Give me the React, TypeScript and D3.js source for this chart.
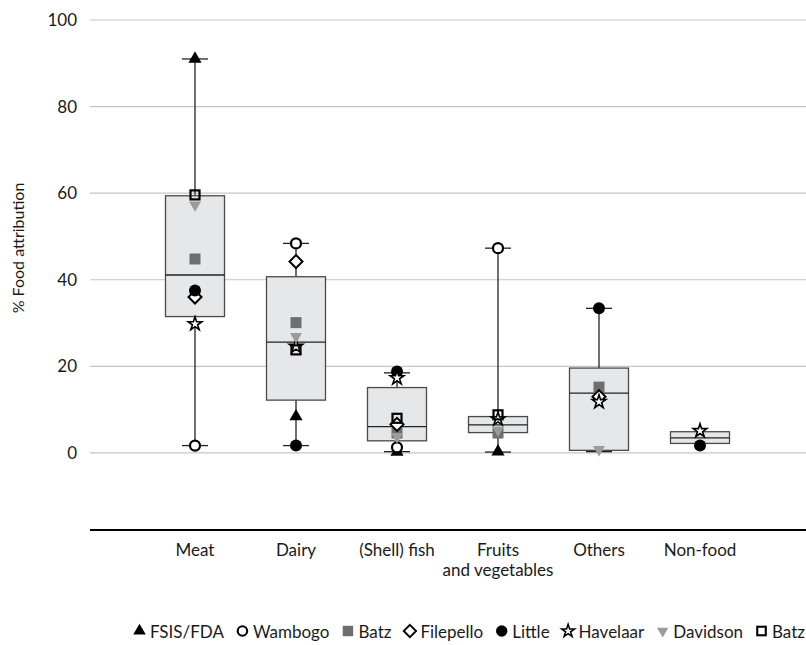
import React, { useLayoutEffect, useRef, useState } from "react";
import * as d3 from "d3";

const categories = ["Meat", "Dairy", "(Shell) fish", "Fruits|and vegetables", "Others", "Non-food"];

// box statistics
const whiskerLow = [1.7, 1.7, 0.3, 0.2, 0.3, 2.2];
const q1 = [31.5, 12.2, 2.8, 4.7, 0.6, 2.2];
const median = [41.1, 25.6, 6.1, 6.5, 13.8, 3.5];
const q3 = [59.4, 40.7, 15.1, 8.4, 19.6, 4.9];
const whiskerHigh = [91, 48.4, 18.5, 47.3, 33.4, 4.9];

// study estimates per category (null = not reported)
const fsisFda = [91, 8.4, 0.2, 0.3, null, null];
const wambogo = [1.7, 48.4, 1.3, 47.3, null, null];
const batzA = [44.8, 30.1, 4.6, 4.6, 15.2, null];
const filepello = [36.0, 44.2, 6.6, null, 13.0, null];
const little = [37.5, 1.7, 18.8, null, 33.4, 1.7];
const havelaar = [29.8, 24.6, 17.3, 7.8, 11.8, 5.1];
const davidson = [57.3, 26.9, 3.8, 5.3, 0.8, null];
const batzB = [59.6, 23.8, 8.0, 8.8, null, null];

const yTicks = [0, 20, 40, 60, 80, 100];

type Shape = "triUp" | "circleOpen" | "squareGray" | "diamond" | "circleFill" | "star" | "triDown" | "squareOpen";

const series: { name: string; shape: Shape; values: (number | null)[] }[] = [
  { name: "FSIS/FDA", shape: "triUp", values: fsisFda },
  { name: "Wambogo", shape: "circleOpen", values: wambogo },
  { name: "Batz", shape: "squareGray", values: batzA },
  { name: "Filepello", shape: "diamond", values: filepello },
  { name: "Little", shape: "circleFill", values: little },
  { name: "Havelaar", shape: "star", values: havelaar },
  { name: "Davidson", shape: "triDown", values: davidson },
  { name: "Batz", shape: "squareOpen", values: batzB },
];

const FONT = "Lato, 'Open Sans', sans-serif";
const TEXT = "#1a1a1a";

function Marker({ shape, x, y, scale = 1 }: { shape: Shape; x: number; y: number; scale?: number }) {
  const t = `translate(${x},${y}) scale(${scale})`;
  switch (shape) {
    case "triUp":
      return <path transform={t} d={d3.symbol(d3.symbolTriangle, 75)()!} fill="#000" />;
    case "triDown":
      return <path transform={`${t} rotate(180)`} d={d3.symbol(d3.symbolTriangle, 62)()!} fill="#9b9b9b" />;
    case "circleOpen":
      return <circle transform={t} r={5} fill="#fff" stroke="#000" strokeWidth={2.2} />;
    case "circleFill":
      return <circle transform={t} r={6} fill="#000" />;
    case "squareGray":
      return <rect transform={t} x={-5.5} y={-5.5} width={11} height={11} fill="#6d6e71" />;
    case "squareOpen":
      return <rect transform={t} x={-4.5} y={-4.5} width={9} height={9} fill="none" stroke="#000" strokeWidth={2.2} />;
    case "diamond":
      return <path transform={t} d="M0,-6.5L6.5,0L0,6.5L-6.5,0Z" fill="#fff" stroke="#000" strokeWidth={2} />;
    case "star":
      return <path transform={t} d={d3.symbol(d3.symbolStar, 58)()!} fill="#fff" stroke="#000" strokeWidth={1.6} />;
  }
}

export default function App() {
  const W = 806, H = 645;
  const y = d3.scaleLinear().domain([-17.8, 100]).range([530, 20]);
  const x = d3.scaleBand<string>().domain(categories).range([144.5, 750.5]).padding(0);
  const cx = (c: string) => x(c)! + x.bandwidth() / 2;
  const boxW = 59, capW = 26;

  // legend layout: measured after first render, spread between start and end
  const legendSize = 17;
  const markerW = 13, markerGap = 4;
  const legendStart = 133, legendEnd = 805;
  const textRefs = useRef<(SVGTextElement | null)[]>([]);
  const [widths, setWidths] = useState<number[]>(series.map(() => 60));
  useLayoutEffect(() => {
    const w = textRefs.current.map((el) => (el ? el.getComputedTextLength() : 60));
    if (w.some((v, i) => Math.abs(v - widths[i]) > 0.5)) setWidths(w);
  });
  const used = d3.sum(widths) + series.length * (markerW + markerGap);
  const itemGap = Math.max(6, (legendEnd - legendStart - used) / (series.length - 1));
  let lx = legendStart;
  const legendItems = series.map((s, i) => {
    const item = { ...s, mx: lx + markerW / 2, tx: lx + markerW + markerGap };
    lx += markerW + markerGap + widths[i] + itemGap;
    return item;
  });

  return (
    <svg width={W} height={H} style={{ position: "absolute", left: 0, top: 0, fontFamily: FONT }}>
      <rect width={W} height={H} fill="#fff" />
      {yTicks.map((t) => (
        <g key={t}>
          <line x1={90} x2={806} y1={y(t)} y2={y(t)} stroke="#c6c6c6" strokeWidth={1.2} />
          <text x={77} y={y(t)} dy="0.36em" textAnchor="end" fontSize={17} fill={TEXT}>{t}</text>
        </g>
      ))}
      <text transform={`translate(18,${248}) rotate(-90)`} textAnchor="middle" dy="0.35em" fontSize={16} fill={TEXT}>% Food attribution</text>

      {categories.map((c, i) => {
        const X = cx(c);
        return (
          <g key={c}>
            <line x1={X} x2={X} y1={y(whiskerHigh[i])} y2={y(q3[i])} stroke="#222" strokeWidth={1.3} />
            <line x1={X} x2={X} y1={y(q1[i])} y2={y(whiskerLow[i])} stroke="#222" strokeWidth={1.3} />
            {whiskerHigh[i] > q3[i] && (
              <line x1={X - capW / 2} x2={X + capW / 2} y1={y(whiskerHigh[i])} y2={y(whiskerHigh[i])} stroke="#222" strokeWidth={1.3} />
            )}
            {whiskerLow[i] < q1[i] && (
              <line x1={X - capW / 2} x2={X + capW / 2} y1={y(whiskerLow[i])} y2={y(whiskerLow[i])} stroke="#222" strokeWidth={1.3} />
            )}
            <rect x={X - boxW / 2} width={boxW} y={y(q3[i])} height={y(q1[i]) - y(q3[i])} fill="#e6e7e8" stroke="#4a4a4a" strokeWidth={1.3} />
            <line x1={X - boxW / 2} x2={X + boxW / 2} y1={y(median[i])} y2={y(median[i])} stroke="#222" strokeWidth={1.3} />
          </g>
        );
      })}

      {series.map((s, si) =>
        s.values.map((v, i) =>
          v == null ? null : <Marker key={`${si}-${i}`} shape={s.shape} x={cx(categories[i])} y={y(v)} />
        )
      )}

      <line x1={90} x2={806} y1={530} y2={530} stroke="#000" strokeWidth={2.2} />
      {categories.map((c) => {
        const lines = c.split("|");
        return (
          <text key={c} x={cx(c)} y={556} textAnchor="middle" fontSize={17} fill={TEXT}>
            {lines.map((l, k) => (
              <tspan key={k} x={cx(c)} dy={k === 0 ? 0 : 20}>{l}</tspan>
            ))}
          </text>
        );
      })}

      {legendItems.map((it, k) => (
        <g key={k}>
          <Marker shape={it.shape} x={it.mx} y={631} scale={0.95} />
          <text ref={(el) => { textRefs.current[k] = el; }} x={it.tx} y={637.5} fontSize={legendSize} fill={TEXT}>{it.name}</text>
        </g>
      ))}
    </svg>
  );
}
